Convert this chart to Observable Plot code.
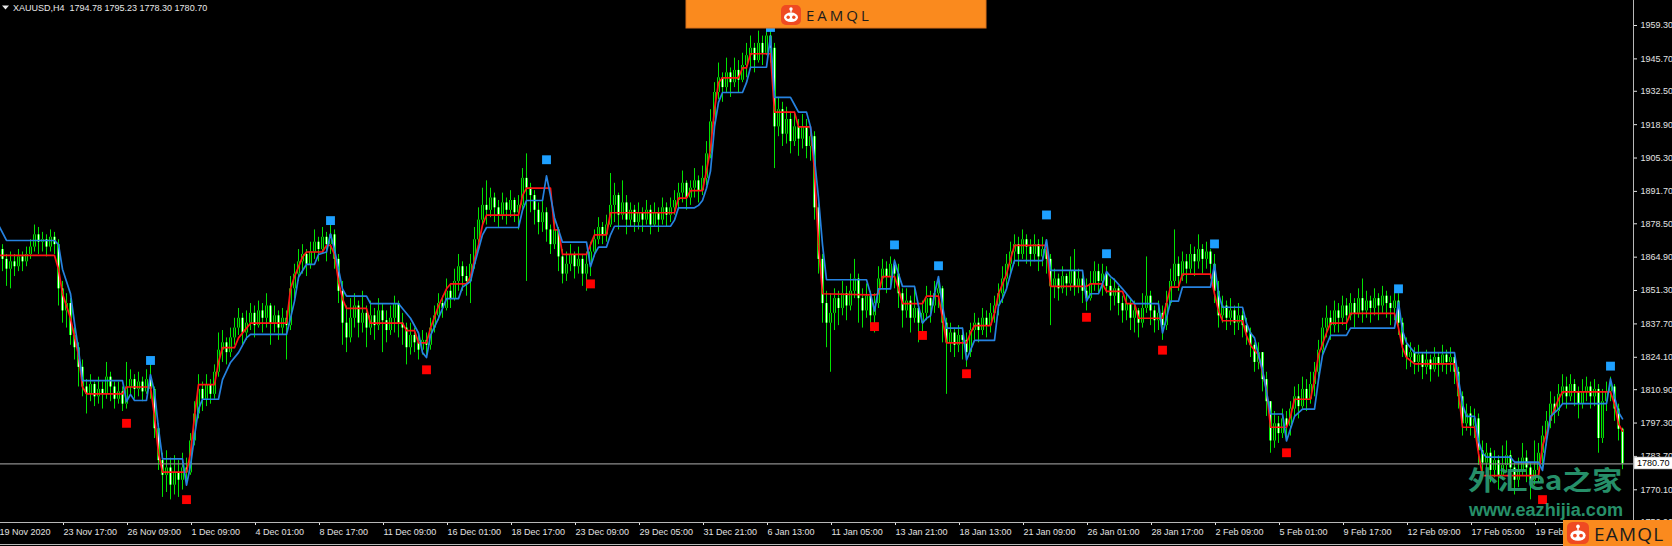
<!DOCTYPE html>
<html>
<head>
<meta charset="utf-8">
<script src="https://cdn.jsdelivr.net/npm/d3@7"></script>
<script src="https://cdn.jsdelivr.net/npm/@observablehq/plot@0.6"></script>
<style>
  html, body { margin: 0; padding: 0; background: #000; }
  #chart { position: relative; width: 1672px; height: 546px; overflow: hidden; background: #000; }
</style>
</head>
<body>
<div id="chart"></div>
<script>
// XAUUSD H4 bars, 19 Nov 2020 - 22 Feb 2021 (bar index 0..406)
const firstOpen = 1872;
const closes = [
  1868,1864,1860,1863,1861,1865,1863,1866,1869,1874,1871,1872,1869,1873,1870,1852,
  1843,1846,1833,1828,1820,1812,
  1809,1813,1808,1811,1809,1816,1812,1807,1810,1805,1812,1815,1811,1814,1810,1815,1811,
  1795,1782,1776,1779,1772,1777,1774,1779,1777,
  1790,1801,1811,1807,1813,1809,1818,1827,1830,1826,1832,
  1836,1840,1834,1838,1842,1837,1843,1840,1845,1838,1841,1836,1840,1837,
  1852,1858,1863,1866,1862,1867,1871,1868,1873,1870,1874,
  1864,1851,1838,1832,
  1840,1845,1838,1842,1836,1841,1837,1843,1839,1835,1840,1846,1838,1836,1828,1833,1830,1827,1831,1829,
  1836,1841,1846,1844,1851,1848,1855,1861,1857,1855,1862,1872,1880,1886,
  1884,1889,1885,1882,1887,1884,1888,1883,1886,
  1897,1893,1890,1884,1879,1883,1876,1870,
  1876,1865,1858,1862,1866,1861,1864,1858,1862,1867,
  1872,1877,1874,1878,
  1886,1890,1882,1887,1880,1884,1879,1883,1880,1884,1878,1883,1880,1885,1882,1885,
  1888,1891,1895,1889,1893,1896,1892,1897,1907,
  1920,1932,1938,1934,1940,1936,1941,1937,1943,1947,
  1950,1945,1952,1948,1955,1950,
  1918,1925,1915,1921,1912,1918,1913,1918,1910,1914,
  1885,1864,1846,1838,1842,1848,1844,
  1850,1845,1851,1856,1848,1843,1849,1841,1846,
  1856,1860,1857,1862,1858,
  1850,1843,1847,1840,1844,1838,1842,1848,1845,1850,1852,
  1838,1830,1834,1829,1833,1831,1826,
  1835,1838,1835,1840,1837,1842,1845,
  1850,1856,1862,1867,1870,1866,
  1872,1869,1866,1870,1865,1868,1864,
  1853,1856,1852,1857,1854,1859,1853,1856,1851,
  1848,1854,1859,1855,1858,1853,
  1849,1852,1846,1843,1846,1840,1843,
  1838,1844,1849,1843,1839,1842,1837,
  1846,1855,1862,1857,1863,1860,1866,1863,1868,1864,1867,1862,
  1851,1841,1845,1840,1843,1838,1841,1837,1834,1829,
  1822,1826,1815,1806,
  1790,1797,1793,1799,1796,1803,
  1808,1804,1811,1807,1813,1818,
  1827,1836,1840,1837,1843,
  1840,1845,1841,1846,1842,1848,1843,1847,1844,1848,1845,1849,1846,1844,1847,
  1838,1829,1824,1826,
  1822,1825,1820,1823,1819,1824,1821,1825,1822,1824,1818,
  1808,1797,1801,1796,1799,
  1786,1781,1785,1778,1782,1776,1780,1784,1779,1774,1778,1783,1779,1774,1778,1785,
  1792,1798,1805,1802,1809,1812,
  1808,1813,1810,1805,1810,1812,1808,1811,1791,1806,1810,1812,
  1803,1794.78,1780.70
];
const highs = [
  1876,1870,1866,1867,1866,1868,1867,1869,1872,1878,1877,1875,1874,1876,1875,1872,
  1855,1850,1848,1836,1830,1823,
  1815,1817,1814,1816,1814,1822,1818,1814,1814,1812,1822,1819,1817,1818,1816,1819,1823,
  1812,1797,1785,1786,1783,1784,1782,1785,1783,
  1793,1806,1817,1814,1817,1815,1821,1834,1835,1832,1836,
  1840,1844,1842,1843,1846,1845,1847,1846,1850,1846,1845,1843,1844,1843,
  1857,1862,1868,1870,1868,1871,1876,1873,1877,1875,1878,
  1876,1866,1855,1845,
  1848,1850,1847,1851,1845,1847,1844,1848,1846,1843,1845,1849,1847,1842,1838,1838,1836,1834,1835,1834,
  1840,1845,1850,1849,1856,1854,1860,1866,1863,1861,1866,1877,1885,1893,
  1896,1893,1891,1888,1891,1889,1892,1889,1890,
  1901,1907,1895,1892,1887,1888,1885,1878,
  1882,1877,1868,1867,1870,1867,1869,1866,1867,1871,
  1876,1881,1879,1882,
  1899,1895,1891,1896,1890,1887,1886,1887,1885,1888,1886,1887,1885,1889,1887,1889,
  1892,1895,1900,1896,1896,1901,1898,1902,1912,
  1925,1936,1944,1940,1946,1942,1946,1945,1948,1952,
  1955,1952,1957,1955,1960,1959,
  1952,1930,1928,1926,1924,1924,1921,1923,1921,1918,
  1916,1887,1866,1851,1850,1852,1851,
  1855,1853,1858,1864,1858,1852,1854,1851,1850,
  1861,1864,1863,1865,1864,
  1862,1852,1852,1849,1853,1846,1847,1853,1851,1855,1857,
  1853,1840,1838,1836,1837,1836,1834,
  1838,1842,1840,1844,1843,1846,1849,
  1854,1861,1866,1871,1874,1873,
  1876,1874,1872,1874,1872,1873,1870,
  1866,1860,1858,1861,1858,1865,1868,1860,1858,
  1856,1859,1863,1862,1862,1861,
  1856,1856,1853,1849,1850,1848,1847,
  1844,1850,1865,1851,1845,1847,1845,
  1851,1860,1876,1865,1867,1866,1870,1869,1874,1870,1871,1868,
  1866,1855,1849,1847,1848,1845,1846,1843,1840,1836,
  1830,1830,1826,1818,
  1806,1802,1800,1803,1802,1806,
  1812,1813,1816,1815,1818,1822,
  1831,1840,1845,1843,1847,
  1846,1849,1848,1850,1848,1852,1856,1851,1849,1852,1850,1853,1851,1849,1851,
  1850,1840,1832,1830,
  1828,1829,1826,1827,1825,1828,1826,1829,1827,1828,1826,
  1820,1810,1805,1804,1803,
  1801,1790,1789,1787,1786,1784,1788,1790,1786,1781,1783,1789,1786,1781,1790,1789,
  1796,1802,1810,1808,1813,1817,
  1816,1817,1815,1812,1815,1816,1814,1815,1813,1811,1814,1816,
  1813,1805,1795.23
];
const lows = [
  1862,1859,1853,1852,1857,1859,1859,1861,1864,1867,1866,1867,1865,1867,1866,1845,
  1838,1836,1829,1823,1812,1808,
  1801,1806,1804,1805,1803,1807,1806,1803,1805,1802,1803,1809,1807,1808,1806,1809,1807,
  1791,1778,1767,1769,1766,1768,1767,1770,1773,
  1776,1788,1799,1802,1804,1805,1807,1816,1822,1821,1824,
  1829,1833,1829,1831,1835,1832,1836,1834,1836,1829,1834,1831,1833,1823,
  1835,1848,1855,1858,1857,1860,1864,1863,1866,1863,1866,
  1860,1846,1829,1826,
  1830,1836,1832,1834,1828,1833,1831,1835,1826,1830,1833,1834,1832,1829,1821,1825,1826,1823,1825,1824,
  1827,1834,1839,1840,1843,1844,1847,1851,1851,1849,1846,1860,1870,1878,
  1878,1881,1879,1877,1880,1878,1881,1879,1876,
  1884,1855,1883,1878,1874,1875,1871,1866,
  1868,1859,1854,1855,1859,1856,1858,1853,1851,1857,
  1865,1870,1870,1871,
  1877,1879,1876,1880,1874,1877,1875,1876,1875,1878,1874,1877,1875,1878,1877,1879,
  1882,1884,1887,1884,1886,1889,1887,1890,1894,
  1905,1918,1929,1928,1932,1930,1934,1932,1936,1938,
  1942,1940,1944,1943,1947,1944,
  1901,1914,1910,1911,1907,1910,1906,1909,1905,1904,
  1880,1858,1838,1828,1818,1835,1837,
  1841,1839,1843,1848,1838,1836,1840,1836,1834,
  1844,1852,1850,1853,1852,
  1844,1836,1840,1834,1838,1830,1833,1839,1838,1842,1844,
  1830,1809,1826,1824,1826,1823,1820,
  1824,1831,1830,1833,1832,1834,1838,
  1841,1846,1852,1858,1862,1861,
  1864,1862,1861,1863,1859,1861,1858,
  1837,1848,1847,1850,1849,1851,1849,1850,1846,
  1843,1847,1851,1850,1849,1850,
  1843,1845,1841,1838,1839,1835,1834,
  1832,1836,1842,1837,1834,1835,1831,
  1835,1845,1853,1851,1855,1854,1858,1857,1860,1858,1860,1856,
  1846,1836,1838,1835,1837,1833,1835,1832,1829,1824,
  1818,1819,1810,1800,
  1785,1787,1789,1791,1790,1792,
  1800,1799,1803,1802,1805,1808,
  1815,1825,1832,1831,1834,
  1834,1837,1835,1839,1836,1840,1838,1840,1838,1841,1839,1842,1840,1837,1839,
  1833,1824,1819,1820,
  1817,1818,1815,1817,1814,1818,1816,1818,1817,1818,1813,
  1803,1792,1794,1792,1791,
  1780,1776,1777,1773,1775,1770,1774,1777,1772,1768,1771,1776,1773,1766,1772,1773,
  1779,1788,1795,1797,1800,1805,
  1803,1806,1804,1799,1803,1806,1803,1804,1785,1789,1802,1806,
  1798,1790,1778.30
];

// Red indicator line: vertices (bar index, price)
const redBars = [0,14,15,16,18,20,21,22,31,32,38,39,40,41,47,48,49,50,54,55,56,59,60,62,63,72,73,74,76,77,81,82,83,84,85,86,87,92,93,101,102,104,105,107,108,110,112,113,117,118,119,120,121,122,130,131,132,138,139,140,141,147,148,149,152,153,169,170,172,173,176,177,178,179,180,181,185,186,187,188,193,194,199,200,203,204,205,206,218,219,220,221,224,225,226,231,232,235,236,237,242,243,244,248,249,250,252,253,254,262,263,272,273,276,277,281,282,284,285,291,292,293,295,296,303,304,305,306,311,312,313,314,315,316,317,318,322,323,324,328,329,330,332,333,337,338,349,350,351,352,354,364,365,366,369,370,371,385,386,387,388,389,390,391,403,404,405,406];
const redVals = [1865.6,1865.6,1860,1850,1840,1825,1812,1809.2,1809.2,1812,1812,1800,1785,1777.3,1777.3,1785,1800,1813,1813,1822,1828,1828,1832,1836,1838,1838,1852,1857,1864.9,1867,1867,1869.7,1869.7,1866,1855,1848,1844,1844,1838,1838,1835,1835,1830,1830,1836,1845,1852,1854,1854,1857,1864,1870,1878,1882,1882,1890,1893,1893,1876,1876,1866,1866,1870,1874,1874,1883,1883,1889,1889,1892,1892,1900,1909,1925,1936,1938,1938,1942,1942,1947.8,1947.8,1924,1924,1918,1918,1900,1870,1850,1849.5,1849.5,1850,1857,1857,1852,1846,1846,1849,1849,1840,1830,1830,1834,1837,1837,1842,1850,1858,1864,1869.7,1869.7,1853,1853,1854,1854,1851,1851,1846,1846,1840,1840,1846,1852.7,1852.7,1858,1858,1850,1843,1839,1839,1833,1829,1827,1825,1818,1811,1795.6,1795.6,1800,1807,1807,1815,1825,1834,1838,1838,1842,1842,1836,1828,1824,1821.4,1821.4,1810,1795.6,1795.6,1785,1775.9,1775.9,1788,1793,1799,1803,1807,1810,1810,1805,1797,1794];

// Blue indicator line: vertices (bar index, price)
const blueBars = [0,2,14,15,16,18,19,20,21,31,32,33,34,37,38,39,40,41,46,47,48,49,50,51,55,56,58,60,62,63,72,73,74,75,77,79,80,82,83,84,85,86,87,92,93,100,101,103,105,106,107,108,110,112,115,116,118,119,120,121,122,130,131,132,136,137,138,139,140,141,147,148,149,150,152,153,154,168,169,170,174,175,176,177,178,179,180,181,186,187,188,192,193,194,198,199,200,202,203,204,205,206,207,217,218,219,220,223,224,225,226,229,230,231,232,233,234,235,236,237,241,242,243,244,249,250,251,252,253,254,261,262,263,271,272,273,275,276,277,278,279,281,283,284,290,291,292,293,295,296,303,304,305,306,311,312,313,314,315,316,317,318,321,322,323,324,326,329,330,331,333,337,338,349,350,351,352,354,364,365,366,367,369,370,371,372,378,379,385,386,387,388,390,391,402,403,404,405,406];
const blueVals = [1878,1871.7,1871.7,1870,1860,1850,1838,1827,1814.6,1814.6,1806,1809,1806.5,1806.5,1817,1810,1795,1782.7,1782.7,1772,1780,1792,1803,1807,1807,1815,1822,1826,1832,1833.4,1833.4,1840,1847,1856.7,1862,1862,1866,1867,1874.4,1868,1860,1852,1849,1849,1846,1846,1844,1840,1834,1826,1824,1833,1840,1848,1848,1852.7,1855,1862,1868,1874,1877,1877,1884,1888,1888,1898,1890,1881,1876,1871,1871,1861,1866,1869,1869,1874,1877.5,1877.5,1880,1885,1885,1886,1888,1893,1900,1918,1928,1932,1932,1936,1942.3,1942.3,1955,1930,1930,1927,1924,1924,1918,1905,1889,1870,1855.7,1855.7,1850,1843,1852,1852,1863.5,1858,1853,1853,1845,1838,1840,1841,1850,1857,1845,1836,1836,1823,1827,1831,1831,1845,1848,1852,1858,1863.5,1863.5,1872,1859.5,1859.5,1847,1850,1850,1854,1859,1857,1855.7,1852,1848,1846,1846,1834,1840,1847,1847,1852.7,1852.7,1862,1850,1844.5,1844.5,1838,1834,1832,1825,1819,1810,1801,1801,1790,1795,1800,1803,1803,1815,1825,1833,1833,1836,1836,1846.6,1835,1830,1826,1826,1815,1805,1800,1800,1790,1785,1783.4,1783.4,1781.4,1781.4,1778,1790,1800,1803,1805.2,1805.2,1815.3,1808,1801.7,1799];

// Signal squares
const upBars = [38, 83, 137, 193, 224, 235, 262, 277, 304, 350, 403];
const upVals = [1822.8, 1879.8, 1904.6, 1958.5, 1869.9, 1861.4, 1882.1, 1866.3, 1870.3, 1852.0, 1820.5];
const downBars = [32, 47, 107, 148, 219, 231, 242, 272, 291, 322, 386];
const downVals = [1797.2, 1766.1, 1819.0, 1854.0, 1836.6, 1833.0, 1817.4, 1840.4, 1827.0, 1785.2, 1766.1];

// Axis ticks
const dateTicks = [0,16,32,48,64,80,96,112,128,144,160,176,192,208,224,240,256,272,288,304,320,336,352,368,384];
const dateLabels = ["19 Nov 2020","23 Nov 17:00","26 Nov 09:00","1 Dec 09:00","4 Dec 01:00","8 Dec 17:00","11 Dec 09:00","16 Dec 01:00","18 Dec 17:00","23 Dec 09:00","29 Dec 05:00","31 Dec 21:00","6 Jan 13:00","11 Jan 05:00","13 Jan 21:00","18 Jan 13:00","21 Jan 09:00","26 Jan 01:00","28 Jan 17:00","2 Feb 09:00","5 Feb 01:00","9 Feb 17:00","12 Feb 09:00","17 Feb 05:00","19 Feb 21:00"];
const priceTicks = [1959.30,1945.70,1932.50,1918.90,1905.30,1891.70,1878.50,1864.90,1851.30,1837.70,1824.10,1810.90,1797.30,1783.70,1770.10,1756.90];

const symbolName = "XAUUSD,H4";
const lastOHLC = [1794.78, 1795.23, 1778.30, 1780.70];

// Each H4 bar opens where the previous one closed
const bars = closes.map((c, i) => ({
  i, o: i === 0 ? firstOpen : closes[i - 1], h: highs[i], l: lows[i], c
}));
const bodies = bars.map(d => ({i: d.i, top: Math.max(d.o, d.c), bot: Math.min(d.o, d.c), bear: d.c < d.o}));
const redLine = redBars.map((b, k) => ({b, v: redVals[k]}));
const blueLine = blueBars.map((b, k) => ({b, v: blueVals[k]}));
const upSig = upBars.map((b, k) => ({b, v: upVals[k]}));
const downSig = downBars.map((b, k) => ({b, v: downVals[k]}));
const lastClose = lastOHLC[3];

const LIME = "#00e400";
const chart = Plot.plot({
  width: 1672,
  height: 546,
  marginLeft: 0,
  marginRight: 39,
  marginTop: 0,
  marginBottom: 24,
  style: {
    background: "#000",
    color: "#e2e2e2",
    fontFamily: "'Liberation Sans', Arial, sans-serif",
    fontSize: "9px",
    overflow: "hidden"
  },
  x: {type: "linear", domain: [0.5, 408.75]},
  y: {type: "linear", domain: [1756.78, 1969.49]},
  marks: [
    // wicks
    Plot.ruleX(bars, {x: "i", y1: "l", y2: "h", stroke: LIME, strokeWidth: 1, clip: true}),
    // bodies
    Plot.ruleX(bodies, {x: "i", y1: "top", y2: "bot", stroke: LIME, strokeWidth: 3, clip: true}),
    Plot.ruleX(bodies.filter(d => d.bear), {x: "i", y1: "top", y2: "bot", stroke: "#f4fff4", strokeWidth: 1, clip: true}),
    Plot.ruleX(bodies.filter(d => !d.bear), {x: "i", y1: "top", y2: "bot", stroke: "#002a00", strokeWidth: 1, clip: true}),
    // current price line
    Plot.ruleY([lastClose], {stroke: "#8c8c8c", strokeWidth: 1.2}),
    // indicator lines
    Plot.line(redLine, {x: "b", y: "v", stroke: "#ff1414", strokeWidth: 1.7, clip: true}),
    Plot.line(blueLine, {x: "b", y: "v", stroke: "#2682e0", strokeWidth: 1.7, clip: true}),
    // signals
    Plot.dot(upSig, {x: "b", y: "v", symbol: "square", r: 5, fill: "#1ea0ff", stroke: null}),
    Plot.dot(downSig, {x: "b", y: "v", symbol: "square", r: 5, fill: "#ff0000", stroke: null}),
    // axes
    Plot.axisX({
      ticks: dateTicks,
      tickFormat: d => dateLabels[dateTicks.indexOf(d)],
      anchor: "bottom",
      tickSize: 3,
      tickPadding: 3,
      textAnchor: "start",
      dx: 1,
      label: null,
      fontSize: 9
    }),
    Plot.axisY({
      ticks: priceTicks,
      tickFormat: d => d.toFixed(2),
      anchor: "right",
      tickSize: 3,
      tickPadding: 4,
      label: null,
      fontSize: 9
    })
  ]
});

document.getElementById("chart").appendChild(chart);

const svg = d3.select(chart);
const FONT = "'Liberation Sans', Arial, sans-serif";
// overlay group with its own text anchoring
const layer = svg.append("g").attr("text-anchor", "start");

// frame lines of the price and time scales
layer.append("line").attr("x1", 1633.5).attr("x2", 1633.5).attr("y1", 0).attr("y2", 546)
  .attr("stroke", "#b8b8b8").attr("stroke-width", 1);
layer.append("line").attr("x1", 0).attr("x2", 1634).attr("y1", 522.5).attr("y2", 522.5)
  .attr("stroke", "#b8b8b8").attr("stroke-width", 1);
layer.append("line").attr("x1", 0).attr("x2", 1672).attr("y1", 544.5).attr("y2", 544.5)
  .attr("stroke", "#b8b8b8").attr("stroke-width", 1);

// current price tag
const tagY = 463;
layer.append("rect").attr("x", 1634).attr("y", tagY - 6).attr("width", 40).attr("height", 12)
  .attr("fill", "#ffffff").attr("stroke", "#9a9a9a").attr("stroke-width", 0.6);
layer.append("text").attr("x", 1637).attr("y", tagY + 3.3).attr("fill", "#000")
  .attr("font-family", FONT).attr("font-size", 9).text(lastClose.toFixed(2));

// symbol header
layer.append("path").attr("d", "M2,5.5 L9,5.5 L5.5,9.5 Z").attr("fill", "#e8e8e8");
layer.append("text").attr("x", 13).attr("y", 11).attr("fill", "#e8e8e8")
  .attr("font-family", FONT).attr("font-size", 9).style("white-space", "pre")
  .text(symbolName + "  " + lastOHLC.map(v => v.toFixed(2)).join(" "));

// watermark
layer.append("text").attr("x", 1468).attr("y", 490).attr("fill", "#2a9c72").attr("opacity", 0.92)
  .attr("font-family", "'Noto Sans CJK SC', sans-serif").attr("font-weight", 700).attr("font-size", 26)
  .attr("textLength", 154).attr("lengthAdjust", "spacingAndGlyphs").text("外汇ea之家");
layer.append("text").attr("x", 1469).attr("y", 516).attr("fill", "#2a9c72").attr("opacity", 0.92)
  .attr("font-family", FONT).attr("font-weight", 700).attr("font-size", 18)
  .attr("textLength", 154).attr("lengthAdjust", "spacingAndGlyphs").text("www.eazhijia.com");

// brand badge: robot icon + wordmark
function robot(g, x, y, s) {
  const r = g.append("g").attr("transform", `translate(${x},${y}) scale(${s})`);
  r.append("rect").attr("width", 20).attr("height", 20).attr("rx", 5).attr("fill", "#ef4a22");
  r.append("line").attr("x1", 10).attr("x2", 10).attr("y1", 4).attr("y2", 7.5).attr("stroke", "#fff").attr("stroke-width", 1.3);
  r.append("circle").attr("cx", 10).attr("cy", 4).attr("r", 1.7).attr("fill", "#fff");
  r.append("ellipse").attr("cx", 10).attr("cy", 12.3).attr("rx", 7).attr("ry", 4.8).attr("fill", "#fff");
  r.append("circle").attr("cx", 7.2).attr("cy", 12.3).attr("r", 1.7).attr("fill", "#ef4a22");
  r.append("circle").attr("cx", 12.8).attr("cy", 12.3).attr("r", 1.7).attr("fill", "#ef4a22");
}

layer.append("rect").attr("x", 686).attr("y", -1).attr("width", 300).attr("height", 29)
  .attr("fill", "#fa8a1e").attr("stroke", "#d9701a").attr("stroke-width", 1);
robot(layer, 781, 5, 1);
layer.append("text").attr("x", 806).attr("y", 21).attr("fill", "#1c1c1c")
  .attr("font-family", "'Open Sans', sans-serif").attr("font-size", 15).attr("letter-spacing", 3)
  .text("EAMQL");

layer.append("rect").attr("x", 1563).attr("y", 520).attr("width", 110).attr("height", 27)
  .attr("fill", "#fa8a1e");
robot(layer, 1567, 522, 1.1);
layer.append("text").attr("x", 1594).attr("y", 541).attr("fill", "#1c1c1c")
  .attr("font-family", "'Open Sans', sans-serif").attr("font-size", 19).attr("letter-spacing", 1.2)
  .text("EAMQL");
</script>
</body>
</html>
